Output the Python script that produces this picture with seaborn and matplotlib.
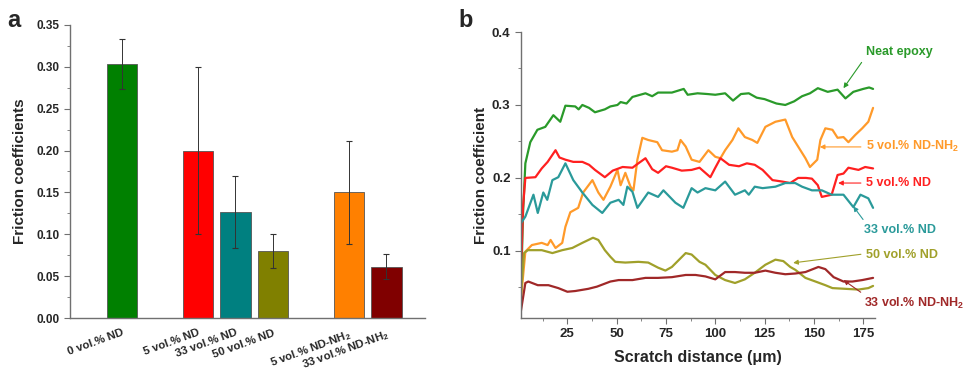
import matplotlib
matplotlib.use("Agg")

import matplotlib.pyplot as plt
import seaborn as sns
import pandas as pd
from matplotlib.ticker import MultipleLocator, FormatStrFormatter

# panel a: mean friction coefficients
bar_labels = ["0 vol.% ND", "5 vol.% ND", "33 vol.% ND", "50 vol.% ND",
              "5 vol.% ND-NH$_2$", "33 vol.% ND-NH$_2$"]
bar_values = [0.303, 0.200, 0.127, 0.080, 0.150, 0.061]
bar_errors = [0.030, 0.100, 0.043, 0.020, 0.062, 0.015]
bar_colors = ["#008000", "#ff0000", "#008080", "#808000", "#ff8000", "#800000"]

# panel b: friction coefficient vs scratch distance
neat_x = [1.2, 2.5, 3.7, 6.2, 9.8, 13.8, 17.9, 21.4, 24, 29, 30.7, 32.6, 36, 39, 44, 46.8,
          50.4, 52, 55, 58, 64.6, 68, 71, 78, 84, 86, 91, 96, 100, 105, 109, 113, 117,
          121, 125, 128, 131, 135.5, 140, 144, 148, 152, 157, 162, 166, 170, 175, 178, 180]
neat_y = [0.015, 0.15, 0.22, 0.249, 0.266, 0.27, 0.286, 0.277, 0.299, 0.298, 0.294, 0.300,
          0.296, 0.290, 0.294, 0.298, 0.300, 0.304, 0.302, 0.311, 0.316, 0.312, 0.317,
          0.317, 0.322, 0.314, 0.316, 0.315, 0.314, 0.316, 0.306, 0.315, 0.316, 0.310,
          0.308, 0.305, 0.302, 0.300, 0.305, 0.312, 0.316, 0.323, 0.318, 0.321, 0.309,
          0.318, 0.322, 0.324, 0.322]

nd5_x = [1, 2.5, 3.7, 8.8, 12, 15, 19, 21, 24, 28, 32.6, 36, 39, 44, 48, 53, 58, 61, 64.6,
         68, 71, 75, 78, 83, 88, 92, 97.5, 100, 102.6, 107, 112, 116, 120, 124, 129, 134,
         138, 142, 146, 149, 152, 154, 159, 162, 165, 167.5, 172.6, 176, 180]
nd5_y = [0.02, 0.16, 0.200, 0.201, 0.213, 0.222, 0.238, 0.228, 0.225, 0.222, 0.222, 0.218,
         0.211, 0.201, 0.210, 0.215, 0.214, 0.220, 0.227, 0.212, 0.207, 0.216, 0.214,
         0.210, 0.211, 0.214, 0.201, 0.214, 0.227, 0.218, 0.216, 0.220, 0.218, 0.211,
         0.197, 0.195, 0.193, 0.200, 0.200, 0.199, 0.190, 0.174, 0.177, 0.204, 0.206,
         0.214, 0.211, 0.215, 0.213]

nd33_x = [1, 1.5, 3.7, 7.8, 10, 12.8, 14.8, 17.4, 20.4, 24, 28, 32.6, 37.7, 42.7, 46.8, 51,
          53.4, 55.4, 58, 60.5, 66, 71, 73.7, 79.8, 83.8, 88, 91, 95, 100, 105, 110, 115,
          117, 120, 124, 130.5, 135.5, 140.5, 144, 149, 154, 159, 165, 170, 173.6, 177.6, 180]
nd33_y = [0.03, 0.138, 0.147, 0.177, 0.152, 0.180, 0.170, 0.197, 0.201, 0.220, 0.197, 0.180,
          0.163, 0.152, 0.166, 0.170, 0.163, 0.188, 0.181, 0.159, 0.180, 0.174, 0.183,
          0.166, 0.159, 0.186, 0.180, 0.186, 0.183, 0.195, 0.177, 0.183, 0.177, 0.188,
          0.186, 0.188, 0.193, 0.193, 0.188, 0.183, 0.183, 0.177, 0.177, 0.160, 0.177,
          0.172, 0.159]

nh5_x = [1, 2, 3.7, 7, 12, 15, 16.5, 19, 22.4, 24, 26.5, 30.5, 33, 37.7, 40.7, 43.3, 46.8,
         50.4, 52, 54.4, 57, 58.5, 60.5, 63, 66, 70.6, 73, 78, 80.8, 82.4, 85, 88, 92, 96.5,
         100, 102.6, 105, 108.7, 111.7, 115, 118.8, 121.3, 125.4, 130.5, 135.5, 139, 142,
         145.7, 148, 151.7, 153.3, 155.8, 159.4, 162, 165, 167.5, 171, 174.5, 177.6, 180]
nh5_y = [0.02, 0.05, 0.099, 0.108, 0.111, 0.108, 0.115, 0.104, 0.111, 0.133, 0.153, 0.159,
         0.180, 0.197, 0.180, 0.170, 0.188, 0.211, 0.190, 0.207, 0.188, 0.183, 0.225,
         0.255, 0.252, 0.249, 0.238, 0.236, 0.238, 0.252, 0.243, 0.225, 0.222, 0.238,
         0.229, 0.227, 0.238, 0.252, 0.268, 0.256, 0.252, 0.248, 0.270, 0.277, 0.280,
         0.256, 0.243, 0.227, 0.215, 0.225, 0.252, 0.268, 0.266, 0.255, 0.256, 0.249,
         0.259, 0.268, 0.277, 0.296]

nd50_x = [1, 2, 3, 5, 12, 17.4, 22.4, 27.5, 32.6, 38, 40.7, 44, 46.8, 49.3, 54.4, 61, 66,
          71, 74.7, 78, 85, 88, 92, 95, 100, 105, 110, 115, 120, 125.4, 130.5, 134.5, 138,
          140.6, 145.7, 150.8, 155.8, 159.4, 166, 172.6, 177.6, 180]
nd50_y = [0.02, 0.06, 0.097, 0.101, 0.101, 0.097, 0.101, 0.104, 0.111, 0.118, 0.115, 0.101,
          0.092, 0.085, 0.084, 0.085, 0.084, 0.077, 0.073, 0.078, 0.097, 0.095, 0.085,
          0.081, 0.067, 0.060, 0.056, 0.061, 0.070, 0.081, 0.088, 0.086, 0.078, 0.074,
          0.063, 0.058, 0.053, 0.049, 0.048, 0.047, 0.049, 0.052]

nh33_x = [1, 3.7, 5.2, 10, 15.4, 20.4, 25, 29, 35.6, 40, 46.8, 51, 58, 64.6, 71, 78, 85, 90,
          95, 100, 105, 110, 115, 120, 125.4, 130.5, 135.5, 140.6, 145.7, 152.3, 155.8, 160,
          165, 169.5, 174.5, 180]
nh33_y = [0.01, 0.056, 0.058, 0.053, 0.053, 0.049, 0.044, 0.045, 0.048, 0.051, 0.058, 0.060,
          0.060, 0.063, 0.063, 0.064, 0.067, 0.067, 0.065, 0.061, 0.071, 0.071, 0.070,
          0.070, 0.073, 0.070, 0.068, 0.069, 0.071, 0.078, 0.075, 0.064, 0.058, 0.058,
          0.060, 0.063]

line_labels = ["Neat epoxy", "5 vol.% ND-NH$_2$", "5 vol.% ND", "33 vol.% ND",
               "50 vol.% ND", "33 vol.% ND-NH$_2$"]
line_colors = ["#2a9a2a", "#ff9a2a", "#ff2020", "#2a9a9a", "#a0a02a", "#a02828"]
series = [(neat_x, neat_y), (nh5_x, nh5_y), (nd5_x, nd5_y), (nd33_x, nd33_y),
          (nd50_x, nd50_y), (nh33_x, nh33_y)]
# (point on line, label position, arrow start on label box)
notes = [((165, 0.323), (176.2, 0.3726), (0.0, 0.1)),
         ((153, 0.2425), (176.2, 0.2425), (0.0, 0.5)),
         ((162.3, 0.193), (176.2, 0.193), (0.0, 0.5)),
         ((170, 0.161), (175.2, 0.1288), (0.05, 0.9)),
         ((139.5, 0.0836), (176.2, 0.0945), (0.0, 0.6)),
         ((165, 0.060), (175.2, 0.0274), (0.05, 0.9))]

sns.set_style("ticks")
plt.rcParams["font.family"] = ["Liberation Sans", "DejaVu Sans"]
plt.rcParams["font.weight"] = "bold"
plt.rcParams["mathtext.default"] = "regular"
axis_grey = "#707070"

fig = plt.figure(figsize=(9.67, 3.74), dpi=100)
ax1 = fig.add_axes([0.0724, 0.1497, 0.3671, 0.7835])
ax2 = fig.add_axes([0.5388, 0.1497, 0.3661, 0.7647])

# ---- panel a
order = [bar_labels[0], " ", bar_labels[1], bar_labels[2], bar_labels[3], "  ",
         bar_labels[4], bar_labels[5]]
df = pd.DataFrame({"label": bar_labels, "value": bar_values})
sns.barplot(data=df, x="label", y="value", hue="label", order=order, hue_order=bar_labels,
            palette=bar_colors, saturation=1, width=0.8, edgecolor="#555555",
            linewidth=0.6, legend=False, ax=ax1)
pos = [order.index(l) for l in bar_labels]
ax1.errorbar(pos, bar_values, yerr=bar_errors, fmt="none", ecolor="#333333",
             elinewidth=0.7, capsize=2.5, capthick=0.8)
ax1.set_xlim(-1.38, 8.02)
ax1.set_ylim(0, 0.35)
ax1.yaxis.set_major_locator(MultipleLocator(0.05))
ax1.yaxis.set_minor_locator(MultipleLocator(0.025))
ax1.yaxis.set_major_formatter(FormatStrFormatter("%.2f"))
ax1.set_xticks(range(len(order)))
ax1.set_xticklabels(order, rotation=20, ha="right", va="top", rotation_mode="anchor",
                    fontsize=8.2, fontweight="bold")
ax1.tick_params(axis="x", length=0, pad=7)
ax1.tick_params(axis="y", which="major", length=4, width=0.8, color=axis_grey, labelsize=8.5)
ax1.tick_params(axis="y", which="minor", length=2, width=0.6, color=axis_grey)
ax1.set_xlabel("")
ax1.set_ylabel("Friction coefficients", fontsize=11, fontweight="bold", labelpad=7)
for lab in ax1.get_yticklabels():
    lab.set_fontweight("bold")

# ---- panel b
for (xs, ys), lab, col in zip(series, line_labels, line_colors):
    sns.lineplot(x=xs, y=ys, color=col, linewidth=1.6, ax=ax2, estimator=None, sort=False)
for (xy, txt_xy, rel), lab, col in zip(notes, line_labels, line_colors):
    ax2.annotate(lab, xy=xy, xytext=txt_xy, textcoords="data", color=col, fontsize=9,
                 fontweight="bold", ha="left", va="center", annotation_clip=False,
                 arrowprops=dict(arrowstyle="-|>", color=col, lw=0.8, mutation_scale=7,
                                 relpos=rel, shrinkA=1, shrinkB=0))
ax2.set_xlim(1.5, 181)
ax2.set_ylim(0.008, 0.4)
ax2.xaxis.set_major_locator(MultipleLocator(25))
ax2.xaxis.set_minor_locator(MultipleLocator(12.5))
ax2.yaxis.set_major_locator(MultipleLocator(0.1))
ax2.yaxis.set_minor_locator(MultipleLocator(0.05))
ax2.set_xticks([25, 50, 75, 100, 125, 150, 175])
ax2.set_yticks([0.1, 0.2, 0.3, 0.4])
ax2.tick_params(which="major", length=4, width=0.8, color=axis_grey, labelsize=9.5)
ax2.tick_params(which="minor", length=2, width=0.6, color=axis_grey)
for lab in ax2.get_xticklabels() + ax2.get_yticklabels():
    lab.set_fontweight("bold")
ax2.set_xlabel("Scratch distance (\u03bcm)", fontsize=11.5, fontweight="bold", labelpad=7)
ax2.set_ylabel("Friction coefficient", fontsize=11, fontweight="bold", labelpad=3)

for ax in (ax1, ax2):
    sns.despine(ax=ax)
    for side in ("left", "bottom"):
        ax.spines[side].set_color(axis_grey)
        ax.spines[side].set_linewidth(1.0)

fig.text(0.008, 0.975, "a", fontsize=17, fontweight="bold", va="top")
fig.text(0.474, 0.975, "b", fontsize=17, fontweight="bold", va="top")

fig.savefig("out.png", dpi=100)
plt.close(fig)
